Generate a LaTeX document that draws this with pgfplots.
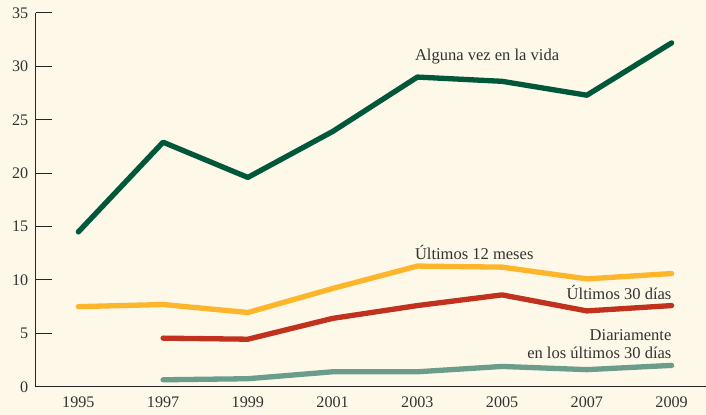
\documentclass[border=0pt]{standalone}
\usepackage{pgfplots}
\pgfplotsset{compat=1.18}
\usepackage{fontspec}
\setmainfont{Liberation Serif}
\definecolor{bg}{HTML}{FDF8E8}
\definecolor{cgreen}{HTML}{00573A}
\definecolor{cyellow}{HTML}{FDB52B}
\definecolor{cred}{HTML}{C0311E}
\definecolor{cteal}{HTML}{6A9D8C}
\definecolor{txt}{HTML}{333333}
\begin{document}
\fontsize{16.6}{19}\selectfont
\begin{tikzpicture}
\fill[bg] (-36bp,-28bp) rectangle (670bp,387bp);
\begin{axis}[
    scale only axis,
    width=670bp, height=374bp,
    at={(0,0)}, anchor=south west,
    xmin=1994, xmax=2009.8,
    ymin=0, ymax=35,
    axis x line=bottom, axis y line=left,
    axis line style={-, line width=1pt, black!85},
    xtick={1995,1997,...,2009},
    minor xtick={1996,1998,...,2008},
    ytick={0,5,...,35},
    xtick style={draw=none},
    minor tick length=8bp,
    major tick length=16bp,
    tick align=inside,
    tick style={line width=1pt, black!85},
    xticklabel style={yshift=-4bp},
    yticklabel style={xshift=-2bp},
    x tick label style={/pgf/number format/1000 sep={}},
    /pgf/number format/assume math mode=true,
    ticklabel style={font=\fontsize{16.2}{19}\selectfont, text=txt},
    every axis plot/.append style={line width=5.3bp, line join=round, line cap=round, mark=none},
    clip=false,
]
\addplot[cgreen] coordinates {
  (1995,14.5) (1997,22.9) (1999,19.6) (2001,23.9) (2003,29.0) (2005,28.6) (2007,27.3) (2009,32.2)};
\addplot[cyellow] coordinates {
  (1995,7.5) (1997,7.7) (1999,6.95) (2001,9.2) (2003,11.3) (2005,11.2) (2007,10.1) (2009,10.6)};
\addplot[cred] coordinates {
  (1997,4.55) (1999,4.45) (2001,6.4) (2003,7.6) (2005,8.6) (2007,7.1) (2009,7.6)};
\addplot[cteal] coordinates {
  (1997,0.65) (1999,0.75) (2001,1.4) (2003,1.4) (2005,1.9) (2007,1.6) (2009,2.0)};
\node[anchor=west, text=txt, inner sep=0pt] at (axis cs:2002.94,30.9) {Alguna vez en la vida};
\node[anchor=west, text=txt, inner sep=0pt] at (axis cs:2002.94,12.6) {Últimos 12 meses};
\node[anchor=east, text=txt, inner sep=0pt] at (axis cs:2009,8.8) {Últimos 30 días};
\node[anchor=east, text=txt, inner sep=0pt, align=right, font=\fontsize{16.6}{18}\selectfont] at (axis cs:2009,4.0) {Diariamente\\en los últimos 30 días};
\end{axis}
\end{tikzpicture}
\end{document}
